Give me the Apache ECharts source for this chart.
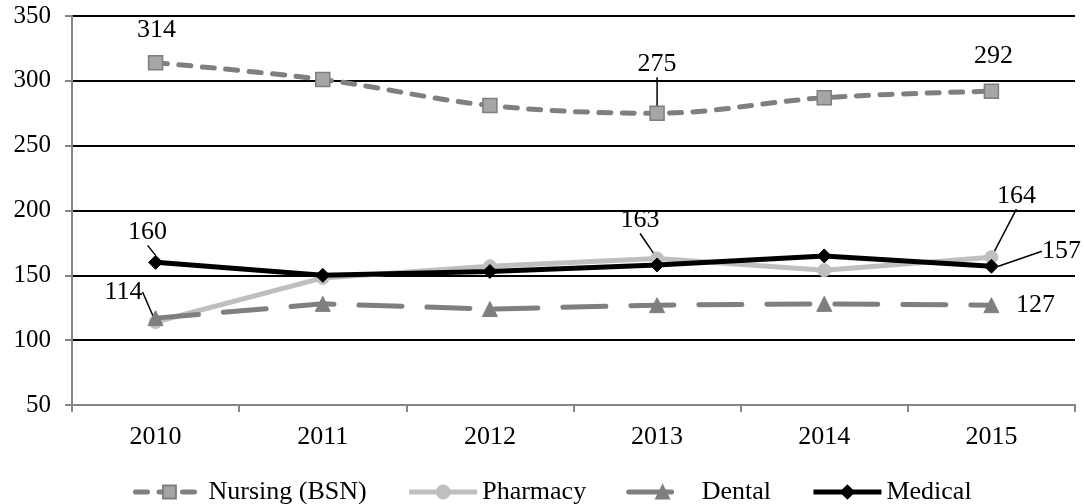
<!DOCTYPE html>
<html>
<head>
<meta charset="utf-8">
<script src="https://cdn.jsdelivr.net/npm/echarts@6/dist/echarts.min.js"></script>
<style>html,body{margin:0;padding:0;background:#fff}#c{width:1084px;height:504px}</style>
</head>
<body>
<div id="c"></div>
<script>
var years = ['2010', '2011', '2012', '2013', '2014', '2015'];
var nursing = [314, 301, 281, 275, 287, 292];
var pharmacy = [114, 148, 157, 163, 154, 164];
var dental = [117, 128, 124, 127, 128, 127];
var medical = [160, 150, 153, 158, 165, 157];
var seriesNames = ['Nursing (BSN)', 'Pharmacy', 'Dental', 'Medical'];

// which points carry a data label, with label offset (style/layout) and leader line flag
var labelSpec = {
  0: {0: [1, -33, false], 3: [0, -49, true], 5: [2, -35, false]},
  1: {0: [-32, -30, true], 3: [-17, -38, true], 5: [25, -61, true]},
  2: {5: [44, 0, false]},
  3: {0: [-8, -30, true], 5: [70, -15, true]}
};

var FONT = 'Liberation Serif';
var FS = 26;

function buildData(si, vals) {
  return vals.map(function (v, i) {
    var spec = labelSpec[si][i];
    if (!spec) return v;
    return {
      value: v,
      label: {show: true, position: 'inside', color: '#000', fontFamily: FONT, fontSize: FS},
      labelLine: {show: spec[2], lineStyle: {color: '#000', width: 1.5}}
    };
  });
}

function layoutFn(si) {
  return function (p) {
    var spec = labelSpec[si][p.dataIndex];
    if (!spec) return {};
    return {dx: spec[0], dy: spec[1]};
  };
}

var chart = echarts.init(document.getElementById('c'));
chart.setOption({
  animation: false,
  grid: {left: 72, right: 9, top: 16, bottom: 99},
  legend: {
    top: 474, left: 128, itemWidth: 68, itemHeight: 16, itemGap: 40,
    lineStyle: {width: 5},
    textStyle: {fontFamily: FONT, fontSize: FS, color: '#000', padding: [0, 0, 0, 0]},
    data: seriesNames
  },
  xAxis: {
    type: 'category', data: years, boundaryGap: true,
    axisLine: {lineStyle: {color: '#868686', width: 2}},
    axisTick: {show: true, interval: 0, length: 7, lineStyle: {color: '#868686', width: 2}},
    axisLabel: {fontFamily: FONT, fontSize: FS, color: '#000', margin: 19}
  },
  yAxis: {
    type: 'value', min: 50, max: 350, interval: 50,
    axisLine: {show: true, lineStyle: {color: '#868686', width: 2}},
    axisTick: {show: true, length: 7, lineStyle: {color: '#868686', width: 2}},
    splitLine: {lineStyle: {color: '#000', width: 2}},
    axisLabel: {fontFamily: FONT, fontSize: 25, color: '#000', margin: 21}
  },
  series: [
    {
      name: seriesNames[0], type: 'line', data: buildData(0, nursing), smooth: 0.35,
      symbol: 'rect', symbolSize: 14,
      itemStyle: {color: '#a6a6a6', borderColor: '#7f7f7f', borderWidth: 1.5},
      lineStyle: {color: '#7f7f7f', width: 5, type: [12, 11.5], cap: 'round'},
      labelLayout: layoutFn(0), z: 2
    },
    {
      name: seriesNames[1], type: 'line', data: buildData(1, pharmacy),
      symbol: 'circle', symbolSize: 13,
      itemStyle: {color: '#bfbfbf', borderColor: '#bfbfbf', borderWidth: 1},
      lineStyle: {color: '#bfbfbf', width: 5},
      labelLayout: layoutFn(1), z: 3
    },
    {
      name: seriesNames[2], type: 'line', data: buildData(2, dental),
      symbol: 'triangle', symbolSize: 15,
      itemStyle: {color: '#7f7f7f', borderColor: '#7f7f7f', borderWidth: 1},
      lineStyle: {color: '#7f7f7f', width: 5, type: [43, 25], cap: 'round'},
      labelLayout: layoutFn(2), z: 4
    },
    {
      name: seriesNames[3], type: 'line', data: buildData(3, medical),
      symbol: 'diamond', symbolSize: 14,
      itemStyle: {color: '#000', borderColor: '#000', borderWidth: 1},
      lineStyle: {color: '#000', width: 5},
      labelLayout: layoutFn(3), z: 5
    }
  ]
});
</script>
</body>
</html>
